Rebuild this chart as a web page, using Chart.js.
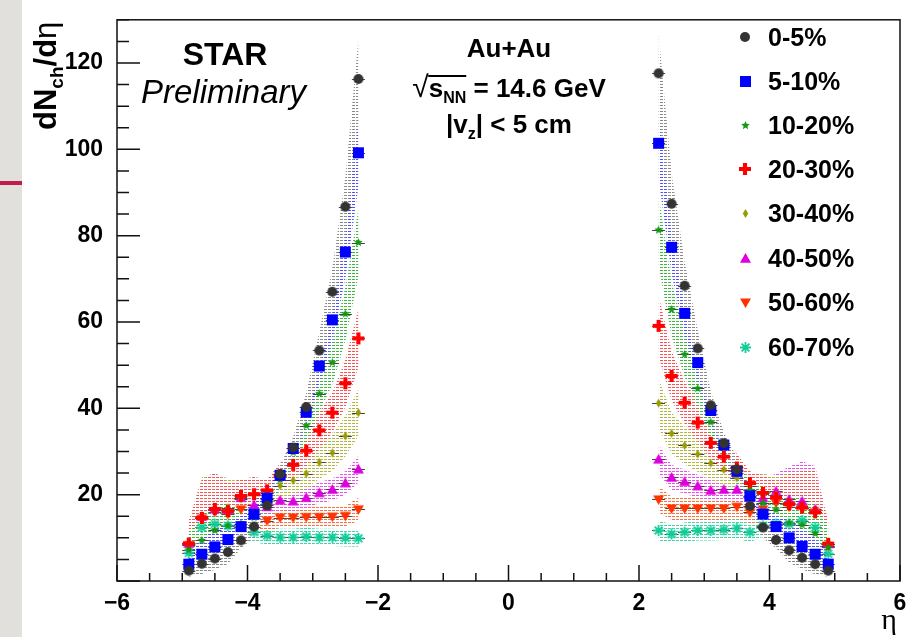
<!DOCTYPE html>
<html>
<head>
<meta charset="utf-8">
<script src="https://cdn.jsdelivr.net/npm/chart.js@4.4.0/dist/chart.umd.min.js"></script>
<style>
  body { margin: 0; background: #fff; }
  #wrap { position: relative; width: 909px; height: 637px; overflow: hidden; font-family: "Liberation Sans", Arial, sans-serif; }
  #strip { position: absolute; left: 0; top: 0; width: 22px; height: 637px; background: #e2e0dd; }
  #stripLine { position: absolute; left: 0; top: 181px; width: 22px; height: 4px; background: #c21c4c; }
  canvas { position: absolute; left: 0; top: 0; }
  .t { position: absolute; white-space: nowrap; color: #000; line-height: 1; }
  .c { transform: translate(-50%, -50%); }
  .b { font-weight: bold; }
  .leg { position: absolute; left: 732px; height: 30px; }
  .leg canvas { position: absolute; left: 0; }
  .leg span { position: absolute; left: 36px; top: 0; line-height: 30px; font-size: 25px; font-weight: bold; white-space: nowrap; }
</style>
</head>
<body>
<div id="wrap">
  <div id="strip"></div>
  <div id="stripLine"></div>
  <canvas id="chart" width="909" height="637"></canvas>

  <div class="t b" style="left:30px; top:130px; font-size:31px; transform-origin:left top; transform:rotate(-90deg);">dN<sub style="font-size:19px; line-height:0">ch</sub>/d<span style="font-weight:normal">η</span></div>
  <div class="t c" style="left:889px; top:619px; font-size:30px; font-family:'Liberation Serif', serif;">η</div>

  <div class="t b c" style="left:225px; top:54px; font-size:32px;">STAR</div>
  <div class="t" style="left:141px; top:75px; font-size:33px; font-style:italic;">Preliminary</div>

  <div class="t b c" style="left:509px; top:48px; font-size:26px;">Au+Au</div>
  <div class="t b c" style="left:509px; top:87px; font-size:26px;"><span style="font-weight:normal; font-size:30px">√</span><span style="display:inline-block; border-top:2px solid #000; line-height:22px;">s<sub style="font-size:16px; line-height:0">NN</sub></span> = 14.6 GeV</div>
  <div class="t b c" style="left:509px; top:124px; font-size:26px;">|v<sub style="font-size:16px; line-height:0">z</sub>| &lt; 5 cm</div>

  <div id="legend"></div>
</div>

<script>
// eta bin centres
const etaLeft = [-4.9, -4.7, -4.5, -4.3, -4.1, -3.9, -3.7, -3.5, -3.3, -3.1, -2.9, -2.7, -2.5, -2.3];
const etaRight = [2.3, 2.5, 2.7, 2.9, 3.1, 3.3, 3.5, 3.7, 3.9, 4.1, 4.3, 4.5, 4.7, 4.9];
const etaHalfWidth = 0.1;

const centLabels = ['0-5%', '5-10%', '10-20%', '20-30%', '30-40%', '40-50%', '50-60%', '60-70%'];

// dNch/deta
const c0_5L   = [2.4, 4.0, 5.2, 6.7, 9.4, 12.6, 17.5, 24.8, 30.9, 40.3, 53.4, 67.0, 86.7, 116.3];
const c0_5R   = [117.6, 87.4, 68.4, 53.9, 40.7, 31.9, 25.8, 17.4, 12.4, 9.5, 7.1, 5.4, 3.9, 2.4];
const c5_10L  = [3.9, 6.2, 7.9, 9.6, 12.6, 15.5, 19.2, 24.5, 30.7, 39.1, 49.8, 60.5, 76.2, 99.2];
const c5_10R  = [101.4, 77.3, 62.0, 50.6, 39.5, 31.5, 25.4, 19.7, 15.5, 12.6, 10.0, 8.0, 6.2, 3.9];
const c10_20L = [7.2, 9.4, 11.7, 12.8, 13.3, 14.7, 19.0, 23.5, 29.8, 36.0, 43.4, 50.6, 61.9, 78.4];
const c10_20R = [81.3, 62.9, 52.5, 44.6, 36.8, 31.1, 25.0, 21.0, 18.0, 16.5, 13.5, 13.0, 11.0, 7.8];
const c20_30L = [8.7, 14.6, 16.7, 16.2, 19.7, 20.1, 21.0, 24.4, 26.9, 30.2, 34.9, 39.0, 45.8, 56.2];
const c20_30R = [59.1, 47.5, 41.3, 36.7, 32.0, 28.8, 26.3, 22.7, 20.4, 19.3, 17.8, 17.0, 15.9, 8.6];
const c30_40L = [8.5, 15.0, 16.5, 17.0, 19.0, 20.0, 20.4, 22.1, 23.3, 24.9, 27.5, 29.7, 33.6, 39.0];
const c30_40R = [41.2, 34.2, 31.4, 29.4, 27.3, 25.8, 23.9, 22.0, 20.8, 20.0, 18.0, 17.0, 16.0, 8.6];
const c40_50L = [8.7, 14.9, 16.7, 16.5, 19.3, 17.6, 17.2, 18.7, 18.5, 19.3, 20.4, 21.2, 22.7, 25.9];
const c40_50R = [28.2, 24.0, 23.0, 22.0, 21.0, 21.2, 21.2, 19.5, 19.3, 20.8, 18.9, 18.5, 16.6, 8.6];
const c50_60L = [8.3, 14.5, 16.0, 15.5, 16.6, 15.5, 14.0, 14.7, 14.7, 14.8, 14.8, 14.9, 15.1, 16.6];
const c50_60R = [18.9, 16.8, 16.8, 16.8, 16.8, 16.8, 17.2, 15.9, 16.6, 18.1, 17.2, 17.0, 15.9, 8.2];
const c60_70L = [6.5, 12.4, 13.2, 12.8, 12.6, 11.3, 10.5, 10.1, 10.1, 10.3, 10.1, 10.1, 10.0, 9.9];
const c60_70R = [11.7, 10.9, 11.3, 11.7, 11.7, 11.9, 12.2, 11.3, 12.8, 13.2, 13.2, 14.0, 12.4, 6.3];

// relative systematic error (band half width) per centrality
const sysRel = [0.08, 0.08, 0.10, 0.12, 0.14, 0.12, 0.16, 0.20];
// extra band width at forward eta, |eta| = 2.3 ... 4.9
const sysForward = [0, 0, 0, 0, 0, 0, 0, 0, 0.2, 0.2, 0.4, 0.5, 0.6, 0.6];

const markerColors = ['#333333', '#0000ff', '#119911', '#ff0000', '#999900', '#dd00dd', '#ff3300', '#11cc99'];
const bandColors = ['#8a8a8a', '#5050ff', '#40b440', '#ff5050', '#b4b440', '#ea50ea', '#ff7040', '#40d7a5'];
const markerKinds = ['circle', 'square', 'star', 'cross', 'diamond', 'tri', 'triDown', 'asterisk'];
const markerSizes = [10, 11, 9, 12, 9, 11, 11, 11];

const leftVals = [c0_5L, c5_10L, c10_20L, c20_30L, c30_40L, c40_50L, c50_60L, c60_70L];
const rightVals = [c0_5R, c5_10R, c10_20R, c20_30R, c30_40R, c40_50R, c50_60R, c60_70R];

function makeMarker(kind, color, s) {
  const c = document.createElement('canvas');
  c.width = s + 4; c.height = s + 4;
  const g = c.getContext('2d');
  const m = (s + 4) / 2, r = s / 2;
  g.fillStyle = color; g.strokeStyle = color;
  g.beginPath();
  if (kind === 'circle') {
    g.arc(m, m, r, 0, Math.PI * 2);
  } else if (kind === 'square') {
    g.rect(m - r, m - r, s, s);
  } else if (kind === 'star') {
    for (let i = 0; i < 10; i++) {
      const a = -Math.PI / 2 + i * Math.PI / 5;
      const rr = i % 2 ? r * 0.45 : r;
      g.lineTo(m + rr * Math.cos(a), m + rr * Math.sin(a));
    }
    g.closePath();
  } else if (kind === 'cross') {
    const w = s * 0.17;
    g.moveTo(m - w, m - r); g.lineTo(m + w, m - r); g.lineTo(m + w, m - w); g.lineTo(m + r, m - w);
    g.lineTo(m + r, m + w); g.lineTo(m + w, m + w); g.lineTo(m + w, m + r); g.lineTo(m - w, m + r);
    g.lineTo(m - w, m + w); g.lineTo(m - r, m + w); g.lineTo(m - r, m - w); g.lineTo(m - w, m - w);
    g.closePath();
  } else if (kind === 'diamond') {
    g.moveTo(m, m - r); g.lineTo(m + r * 0.6, m); g.lineTo(m, m + r); g.lineTo(m - r * 0.6, m);
    g.closePath();
  } else if (kind === 'tri') {
    g.moveTo(m, m - r); g.lineTo(m + r, m + r * 0.75); g.lineTo(m - r, m + r * 0.75);
    g.closePath();
  } else if (kind === 'triDown') {
    g.moveTo(m, m + r); g.lineTo(m + r, m - r * 0.75); g.lineTo(m - r, m - r * 0.75);
    g.closePath();
  } else if (kind === 'asterisk') {
    g.lineWidth = 1.8;
    for (let i = 0; i < 4; i++) {
      const a = i * Math.PI / 4;
      g.moveTo(m - r * Math.cos(a), m - r * Math.sin(a));
      g.lineTo(m + r * Math.cos(a), m + r * Math.sin(a));
    }
    g.stroke();
    return c;
  }
  g.fill();
  return c;
}

// horizontal dashed hatch like the ROOT fill style
function makeHatch(color) {
  const p = document.createElement('canvas');
  p.width = 4; p.height = 3;
  const g = p.getContext('2d');
  g.fillStyle = color;
  g.fillRect(0, 0, 3, 1);
  return document.getElementById('chart').getContext('2d').createPattern(p, 'repeat');
}

const datasets = [];

// markers
centLabels.forEach((lab, i) => {
  const pts = etaLeft.map((x, k) => ({ x: x, y: leftVals[i][k] }))
    .concat(etaRight.map((x, k) => ({ x: x, y: rightVals[i][k] })));
  datasets.push({
    label: lab,
    isMarker: true,
    data: pts,
    showLine: false,
    pointStyle: makeMarker(markerKinds[i], markerColors[i], markerSizes[i]),
    pointRadius: 5,
    order: 0
  });
});

// systematic bands
centLabels.forEach((lab, i) => {
  const hatch = makeHatch(bandColors[i]);
  [[etaLeft, leftVals[i], true], [etaRight, rightVals[i], false]].forEach(([etas, vals, isLeft]) => {
    const err = etas.map((x, k) => Math.max(sysRel[i], sysForward[isLeft ? 13 - k : k]));
    datasets.push({
      label: lab + ' sys',
      data: etas.map((x, k) => ({ x: x, y: vals[k] * (1 + err[k]) })),
      borderWidth: 0, borderColor: 'transparent', pointRadius: 0,
      backgroundColor: hatch, fill: '+1', order: 1
    });
    datasets.push({
      label: lab + ' sys',
      data: etas.map((x, k) => ({ x: x, y: vals[k] * (1 - err[k]) })),
      borderWidth: 0, borderColor: 'transparent', pointRadius: 0,
      fill: false, order: 1
    });
  });
});

// x error bars (bin width) behind the markers
const whiskers = {
  id: 'whiskers',
  beforeDatasetsDraw(chart) {
    const { ctx, scales: { x, y } } = chart;
    ctx.save();
    ctx.strokeStyle = '#444';
    ctx.lineWidth = 1;
    chart.data.datasets.forEach(ds => {
      if (!ds.isMarker) return;
      ds.data.forEach(p => {
        const py = Math.round(y.getPixelForValue(p.y)) + 0.5;
        ctx.beginPath();
        ctx.moveTo(x.getPixelForValue(p.x - etaHalfWidth), py);
        ctx.lineTo(x.getPixelForValue(p.x + etaHalfWidth), py);
        ctx.stroke();
      });
    });
    ctx.restore();
  }
};

// frame and inward ROOT-style ticks
const frame = {
  id: 'frame',
  afterDraw(chart) {
    const { ctx, chartArea: a, scales: { x, y } } = chart;
    ctx.save();
    ctx.strokeStyle = '#111';
    ctx.lineWidth = 1.5;
    ctx.strokeRect(a.left, a.top, a.right - a.left, a.bottom - a.top);
    ctx.beginPath();
    for (let v = 0; v <= 130; v += 5) {
      const py = y.getPixelForValue(v);
      ctx.moveTo(a.left, py);
      ctx.lineTo(a.left + (v % 20 === 0 ? 23 : 12), py);
    }
    for (let v = -6; v <= 6; v += 0.5) {
      const px = x.getPixelForValue(v);
      ctx.moveTo(px, a.bottom);
      ctx.lineTo(px, a.bottom - (v % 2 === 0 ? 16 : 8));
    }
    ctx.stroke();
    ctx.restore();
  }
};

const tickFont = { family: 'Liberation Sans', weight: 'bold', size: 23 };

new Chart(document.getElementById('chart'), {
  type: 'line',
  data: { datasets: datasets },
  options: {
    responsive: false,
    animation: false,
    layout: { autoPadding: false, padding: { left: 0, top: 13, right: 9, bottom: 0 } },
    plugins: {
      legend: { display: false },
      tooltip: { enabled: false },
      filler: { drawTime: 'beforeDatasetsDraw' }
    },
    scales: {
      x: {
        type: 'linear', min: -6, max: 6,
        grid: { display: false }, border: { display: false },
        ticks: {
          stepSize: 2, autoSkip: false, maxRotation: 0, padding: 1,
          color: '#000', font: tickFont,
          callback: v => (v % 2 === 0 ? String(v).replace('-', '\u2212') : '')
        },
        afterFit: s => { s.height = 56; }
      },
      y: {
        type: 'linear', min: 0, max: 130,
        grid: { display: false }, border: { display: false },
        ticks: {
          stepSize: 20, padding: 6, color: '#000', font: tickFont,
          callback: v => (v > 0 && v % 20 === 0 ? v : '')
        },
        afterFit: s => { s.width = 117; }
      }
    }
  },
  plugins: [whiskers, frame]
});

// legend (top right, inside the frame)
const legendRows = [37, 81, 125, 169, 213, 258, 302, 347];
const legend = document.getElementById('legend');
centLabels.forEach((lab, i) => {
  const row = document.createElement('div');
  row.className = 'leg';
  row.style.top = (legendRows[i] - 15) + 'px';
  const mk = makeMarker(markerKinds[i], markerColors[i], markerSizes[i]);
  mk.style.left = (745 - 732 - mk.width / 2) + 'px';
  mk.style.top = (15 - mk.height / 2) + 'px';
  const sp = document.createElement('span');
  sp.textContent = lab;
  row.appendChild(mk);
  row.appendChild(sp);
  legend.appendChild(row);
});
</script>
</body>
</html>
